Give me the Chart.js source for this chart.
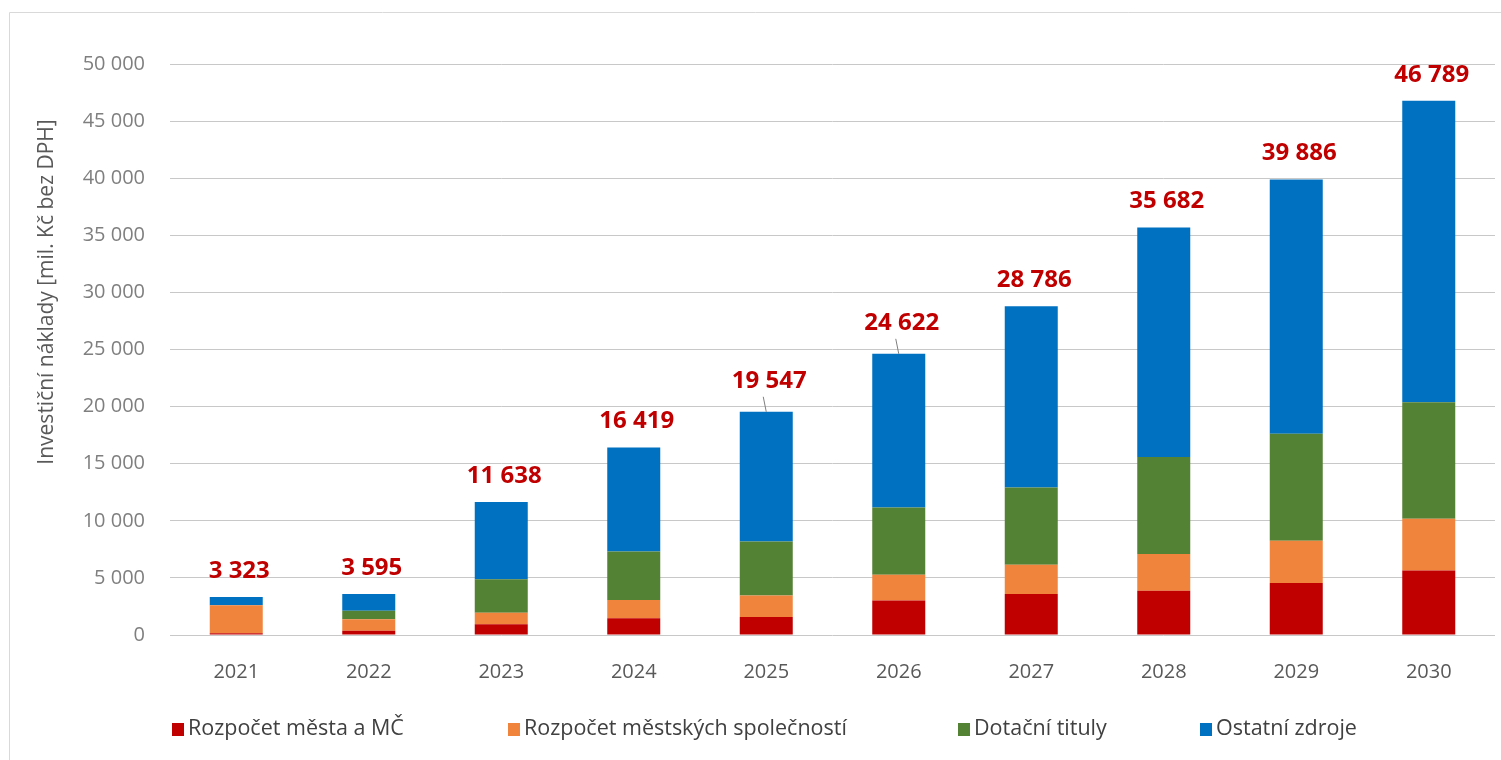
<!DOCTYPE html>
<html>
<head>
<meta charset="utf-8">
<script src="https://cdn.jsdelivr.net/npm/chart.js@4.4.1/dist/chart.umd.min.js"></script>
<style>
  html, body { margin: 0; padding: 0; background: #ffffff; }
  #wrap { position: relative; width: 1501px; height: 760px; }
  canvas { display: block; }
</style>
</head>
<body>
<div id="wrap"><canvas id="c" width="1501" height="760"></canvas></div>
<script>
// ---- data ----
const categories = ['2021','2022','2023','2024','2025','2026','2027','2028','2029','2030'];
const seriesNames = ['Rozpočet města a MČ','Rozpočet městských společností','Dotační tituly','Ostatní zdroje'];
const cityBudget    = [150, 380, 940, 1457, 1574, 3031, 3584, 3875, 4563, 5656];
const companyBudget = [2450, 1000, 1015, 1603, 1894, 2243, 2565, 3219, 3687, 4532];
const subsidies     = [0, 750, 2925, 4254, 4720, 5887, 6760, 8500, 9375, 10187];
const otherSources  = [723, 1465, 6758, 9105, 11359, 13461, 15877, 20088, 22261, 26414];
const totals        = [3323, 3595, 11638, 16419, 19547, 24622, 28786, 35682, 39886, 46789];
const yTicks        = [0, 5000, 10000, 15000, 20000, 25000, 30000, 35000, 40000, 45000, 50000];
const yTitle = 'Investiční náklady [mil. Kč bez DPH]';

const colors = ['#c00000', '#f0843c', '#548235', '#0070c0'];
const FONT = "'Open Sans', 'DejaVu Sans', sans-serif";

function fmt(v) {
  return String(v).replace(/\B(?=(\d{3})+(?!\d))/g, ' ');
}

const framePlugin = {
  id: 'frame',
  beforeDraw(chart) {
    const ctx = chart.ctx;
    ctx.save();
    ctx.strokeStyle = '#d9d9d9';
    ctx.lineWidth = 1;
    ctx.beginPath();
    ctx.moveTo(9.5, 760);
    ctx.lineTo(9.5, 12.5);
    ctx.lineTo(1501, 12.5);
    ctx.stroke();
    ctx.restore();
  }
};

const yTitlePlugin = {
  id: 'ytitle',
  afterDraw(chart) {
    const ctx = chart.ctx;
    ctx.save();
    ctx.translate(47, 292);
    ctx.rotate(-Math.PI / 2);
    ctx.font = '21px ' + FONT;
    ctx.fillStyle = '#595959';
    ctx.textAlign = 'center';
    ctx.textBaseline = 'middle';
    ctx.fillText(yTitle, 0, 0);
    ctx.restore();
  }
};

const totalsPlugin = {
  id: 'totals',
  afterDatasetsDraw(chart, args, opts) {
    const ctx = chart.ctx;
    const last = chart.getDatasetMeta(chart.data.datasets.length - 1);
    const leaders = opts.leaders || [];
    ctx.save();
    ctx.font = 'bold 24px ' + FONT;
    ctx.fillStyle = '#c00000';
    ctx.textAlign = 'center';
    ctx.textBaseline = 'middle';
    totals.forEach((t, i) => {
      const bar = last.data[i];
      const x = bar.x;
      const top = chart.scales.y.getPixelForValue(t);
      const lead = leaders.includes(i);
      const lift = lead ? 31 : 26;
      ctx.fillText(fmt(t), x + 3, top - lift);
      if (lead) {
        ctx.strokeStyle = '#7f7f7f';
        ctx.lineWidth = 1;
        ctx.beginPath();
        ctx.moveTo(x - 3, top - lift + 16);
        ctx.lineTo(x, top);
        ctx.stroke();
      }
    });
    ctx.restore();
  }
};

const legendPlugin = {
  id: 'customLegend',
  afterDraw(chart, args, opts) {
    const ctx = chart.ctx;
    const xs = opts.positions;
    ctx.save();
    ctx.font = '21.5px ' + FONT;
    ctx.textBaseline = 'middle';
    ctx.textAlign = 'left';
    chart.data.datasets.forEach((ds, i) => {
      const x = xs[i];
      const y = 729;
      ctx.fillStyle = colors[i];
      ctx.fillRect(x, y - 6, 12, 13);
      ctx.fillStyle = '#404040';
      ctx.fillText(ds.label, x + 16, y);
    });
    ctx.restore();
  }
};

function orangeFill(context) {
  const chart = context.chart;
  const area = chart.chartArea;
  if (!area || context.type !== 'data') return colors[1];
  const el = context.element;
  if (!el || !isFinite(el.y) || !isFinite(el.base) || el.base === el.y) return colors[1];
  const g = chart.ctx.createLinearGradient(0, el.y, 0, el.base);
  g.addColorStop(0, '#f49c62');
  g.addColorStop(0.5, '#f0843c');
  g.addColorStop(1, '#e56f1e');
  return g;
}

const seriesData = [cityBudget, companyBudget, subsidies, otherSources];

new Chart(document.getElementById('c'), {
  type: 'bar',
  data: {
    labels: categories,
    datasets: seriesData.map((d, i) => ({
      label: seriesNames[i],
      data: d,
      backgroundColor: i === 1 ? orangeFill : colors[i],
      borderWidth: 0,
      categoryPercentage: 1.0,
      barPercentage: 0.4
    }))
  },
  options: {
    responsive: false,
    animation: false,
    layout: { padding: { top: 64, right: 6, left: 0, bottom: 0 } },
    plugins: {
      legend: { display: false },
      tooltip: { enabled: false },
      totals: { leaders: [4, 5] },
      customLegend: { positions: [172, 508, 958, 1200] }
    },
    scales: {
      x: {
        stacked: true,
        grid: { display: false, drawTicks: false },
        border: { display: false },
        ticks: {
          padding: 25,
          color: '#595959',
          font: { family: FONT, size: 20 }
        },
        afterFit(s) { s.height = 125; }
      },
      y: {
        stacked: true,
        min: 0,
        max: 50000,
        afterBuildTicks(s) { s.ticks = yTicks.map(v => ({ value: v })); },
        grid: { color: '#c8c8c8', lineWidth: 1, drawTicks: false },
        border: { display: false },
        ticks: {
          padding: 25,
          color: '#7f7f7f',
          font: { family: FONT, size: 20 },
          callback: v => fmt(v)
        },
        afterFit(s) { s.width = 170; }
      }
    }
  },
  plugins: [framePlugin, yTitlePlugin, totalsPlugin, legendPlugin]
});
</script>
</body>
</html>
